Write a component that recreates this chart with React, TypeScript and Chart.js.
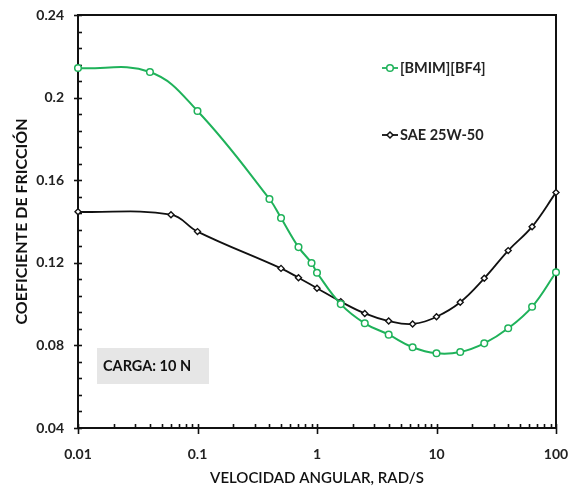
import { useEffect, useRef } from 'react';
import { Chart, registerables } from 'chart.js';

Chart.register(...registerables);

// ---- Data ----
const bmimX = [0.01, 0.04, 0.1, 0.4, 0.5, 0.7, 0.9, 1, 1.58, 2.51, 3.98, 6.31, 10, 15.8, 25.1, 39.8, 63.1, 100];
const bmimY = [0.2143, 0.2124, 0.1935, 0.1509, 0.1417, 0.1276, 0.1199, 0.1152, 0.1, 0.0907, 0.0852, 0.0791, 0.0762, 0.0768, 0.081, 0.0883, 0.0987, 0.1154];
const saeX = [0.01, 0.06, 0.1, 0.5, 0.7, 1, 1.58, 2.51, 3.98, 6.31, 10, 15.8, 25.1, 39.8, 63.1, 100];
const saeY = [0.1447, 0.1433, 0.1351, 0.1173, 0.1128, 0.1077, 0.1012, 0.0955, 0.0918, 0.0904, 0.0939, 0.1009, 0.1125, 0.1259, 0.1375, 0.1541];

const seriesNames = ['[BMIM][BF4]', 'SAE 25W-50'];
const xMajorTicks = [0.01, 0.1, 1, 10, 100];
const yTicks = [0.04, 0.08, 0.12, 0.16, 0.2, 0.24];
const yMinorStep = 0.008;
const loadLabel = 'CARGA: 10 N';
const xTitle = 'VELOCIDAD ANGULAR, RAD/S';
const yTitle = 'COEFICIENTE DE FRICCIÓN';

const GREEN = '#1fb25a';
const BLACK = '#111111';
const FONT = 'Lato';

const framePlugin = {
  id: 'frame',
  beforeDatasetsDraw(chart: any) {
    const { ctx, chartArea: a, scales } = chart;
    const x = scales.x;
    const y = scales.y;
    ctx.save();
    ctx.strokeStyle = '#111';
    ctx.lineWidth = 1.6;
    // y ticks
    for (let v = yTicks[0]; v <= yTicks[yTicks.length - 1] + 1e-9; v += yMinorStep) {
      const py = Math.round(y.getPixelForValue(v)) + 0.5;
      const isMajor = yTicks.some((t) => Math.abs(t - v) < 1e-6);
      ctx.beginPath();
      ctx.moveTo(isMajor ? a.left - 4 : a.left, py);
      ctx.lineTo(a.left + 4, py);
      ctx.stroke();
    }
    // x ticks
    for (let k = -2; k <= 2; k++) {
      for (let m = 1; m <= 9; m++) {
        const v = m * Math.pow(10, k);
        if (v < 0.01 - 1e-12 || v > 100 + 1e-9) continue;
        const px = Math.round(x.getPixelForValue(v)) + 0.5;
        const isMajor = m === 1;
        ctx.beginPath();
        ctx.moveTo(px, a.bottom - 4);
        ctx.lineTo(px, isMajor ? a.bottom + 6 : a.bottom);
        ctx.stroke();
      }
    }
    ctx.lineWidth = 2;
    ctx.strokeRect(a.left, a.top, a.right - a.left, a.bottom - a.top);
    ctx.restore();
  },
};

const annotPlugin = {
  id: 'annot',
  afterDraw(chart: any) {
    const { ctx, chartArea: a } = chart;
    ctx.save();
    // legend
    const lx = a.left + 304;
    const items = [
      { name: seriesNames[0], color: GREEN, y: a.top + 53, style: 'circle' },
      { name: seriesNames[1], color: BLACK, y: a.top + 120, style: 'diamond' },
    ];
    for (const it of items) {
      ctx.strokeStyle = it.color;
      ctx.lineWidth = 1.8;
      ctx.beginPath();
      ctx.moveTo(lx, it.y);
      ctx.lineTo(lx + 16, it.y);
      ctx.stroke();
      ctx.fillStyle = '#fff';
      ctx.lineWidth = 1.5;
      ctx.beginPath();
      if (it.style === 'circle') {
        ctx.arc(lx + 8, it.y, 3.3, 0, Math.PI * 2);
      } else {
        ctx.moveTo(lx + 8, it.y - 3);
        ctx.lineTo(lx + 11, it.y);
        ctx.lineTo(lx + 8, it.y + 3);
        ctx.lineTo(lx + 5, it.y);
        ctx.closePath();
      }
      ctx.fill();
      ctx.stroke();
      ctx.fillStyle = '#222';
      ctx.font = `bold 14.5px ${FONT}`;
      ctx.textAlign = 'left';
      ctx.textBaseline = 'middle';
      ctx.fillText(it.name, lx + 18, it.y);
    }
    // load box
    const bx = a.left + 19;
    const by = a.top + 333;
    ctx.fillStyle = '#e6e6e6';
    ctx.fillRect(bx, by, 112, 36);
    ctx.fillStyle = '#111';
    ctx.font = `bold 14.5px ${FONT}`;
    ctx.textAlign = 'left';
    ctx.textBaseline = 'middle';
    ctx.fillText(loadLabel, bx + 6, by + 18);
    ctx.restore();
  },
};

export default function App() {
  const ref = useRef<HTMLCanvasElement | null>(null);
  useEffect(() => {
    if (!ref.current) return;
    const chart = new Chart(ref.current, {
      type: 'line',
      data: {
        datasets: [
          {
            label: seriesNames[0],
            data: bmimX.map((v, i) => ({ x: v, y: bmimY[i] })),
            borderColor: GREEN,
            backgroundColor: '#ffffff',
            borderWidth: 2,
            pointStyle: 'circle',
            pointRadius: 3.3,
            pointBorderWidth: 1.5,
            pointBorderColor: GREEN,
            pointBackgroundColor: '#ffffff',
            tension: 0.4,
            clip: false,
          },
          {
            label: seriesNames[1],
            data: saeX.map((v, i) => ({ x: v, y: saeY[i] })),
            borderColor: BLACK,
            backgroundColor: '#ffffff',
            borderWidth: 1.8,
            pointStyle: 'rectRot',
            pointRadius: 3,
            pointBorderWidth: 1.4,
            pointBorderColor: BLACK,
            pointBackgroundColor: '#ffffff',
            tension: 0.4,
            clip: false,
          },
        ],
      },
      options: {
        animation: false,
        responsive: false,
        maintainAspectRatio: false,
        layout: { padding: { top: 15, right: 12, left: 0, bottom: 0 } },
        plugins: { legend: { display: false }, tooltip: { enabled: false } },
        scales: {
          x: {
            type: 'logarithmic',
            min: 0.01,
            max: 100,
            grid: { display: false, drawTicks: false },
            border: { display: false },
            afterBuildTicks: (scale: any) => {
              scale.ticks = xMajorTicks.map((v) => ({ value: v }));
            },
            ticks: {
              autoSkip: false,
              maxRotation: 0,
              padding: 18,
              color: '#222',
              font: { family: FONT, size: 14, weight: 'bold' },
              callback: (v: any) => {
                const k = Math.round(Math.log10(Number(v)));
                return k < 0 ? Math.pow(10, k).toFixed(-k) : String(Math.pow(10, k));
              },
            },
            title: {
              display: true,
              text: xTitle,
              color: '#111',
              font: { family: FONT, size: 15, weight: '600' },
              padding: { top: 0, bottom: 2 },
            },
            afterFit: (scale: any) => {
              scale.height = 61;
              scale.paddingLeft = 0;
              scale.paddingRight = 0;
            },
          },
          y: {
            type: 'linear',
            min: 0.04,
            max: 0.24,
            grid: { display: false, drawTicks: false },
            border: { display: false },
            afterBuildTicks: (scale: any) => {
              scale.ticks = yTicks.map((v) => ({ value: v }));
            },
            ticks: {
              padding: 14,
              color: '#222',
              font: { family: FONT, size: 14, weight: 'bold' },
              callback: (v: any) => String(Number(Number(v).toFixed(3))),
            },
            title: {
              display: true,
              text: yTitle,
              color: '#111',
              font: { family: FONT, size: 16, weight: 'bold' },
              padding: { top: 12, bottom: 0 },
            },
            afterFit: (scale: any) => {
              scale.width = 78;
              scale.paddingTop = 0;
              scale.paddingBottom = 0;
            },
          },
        },
      } as any,
      plugins: [framePlugin, annotPlugin],
    });
    return () => chart.destroy();
  }, []);
  return (
    <div style={{ position: 'absolute', left: 0, top: 0, width: 568, height: 489, background: '#fff' }}>
      <canvas ref={ref} width={568} height={489} style={{ width: 568, height: 489 }} />
    </div>
  );
}
